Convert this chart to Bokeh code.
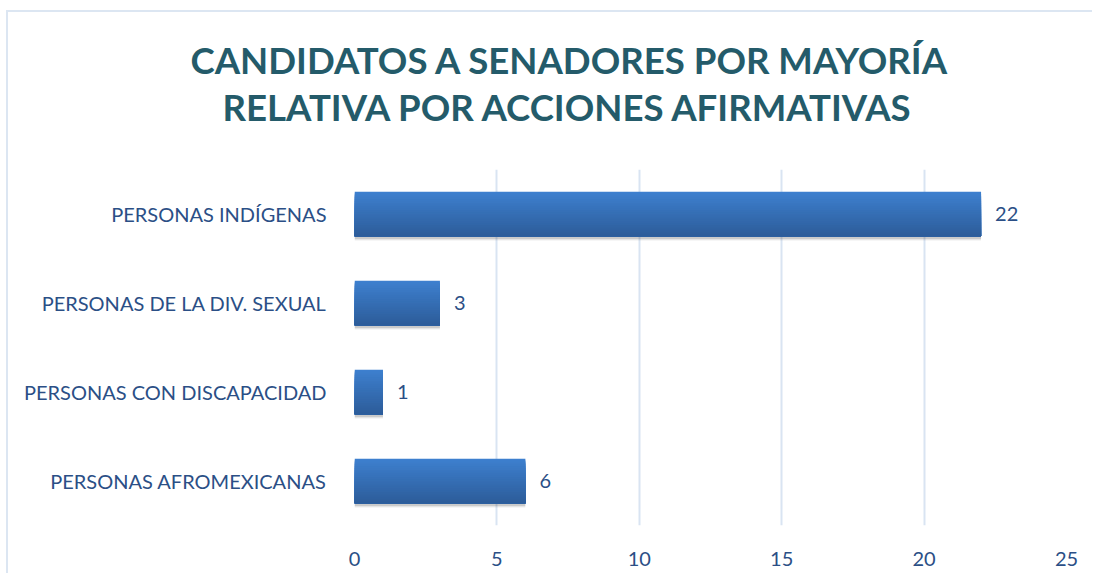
from bokeh.plotting import figure
from bokeh.models import FactorRange, ColumnDataSource, LabelSet, Title, Range1d, FixedTicker
from bokeh.core.properties import value
from bokeh.transform import dodge
from bokeh.embed import file_html
from bokeh.resources import INLINE

categories = ["PERSONAS INDÍGENAS", "PERSONAS DE LA DIV. SEXUAL",
              "PERSONAS CON DISCAPACIDAD", "PERSONAS AFROMEXICANAS"]
values = [22, 3, 1, 6]
x_ticks = [0, 5, 10, 15, 20, 25]
title_lines = ["CANDIDATOS A SENADORES POR MAYORÍA", "RELATIVA POR ACCIONES AFIRMATIVAS"]

factors = list(reversed(categories))
src = ColumnDataSource(dict(cat=categories, val=values, lbl=[str(v) for v in values]))

p = figure(width=1086, height=563, y_range=FactorRange(factors=factors),
           x_range=Range1d(0, 25), output_backend="svg", toolbar_location=None,
           min_border_left=346, min_border_right=28, min_border_top=157,
           min_border_bottom=50)
p.margin = (10, 0, 0, 6)
p.outline_line_color = None
p.styles = {"border-left": "2px solid #DCE6F2", "border-top": "2px solid #DCE6F2"}

bar_h = 0.5
# soft shadow
for k, a in [(0.05, 0.05), (0.04, 0.07), (0.03, 0.09)]:
    p.hbar(y=dodge("cat", -k, range=p.y_range), right="val", left=0, height=bar_h,
           source=src, fill_color="#000000", fill_alpha=a, line_color=None)

# vertical gradient: nested bars anchored at the bar bottom
N = 24
top = (61, 127, 206)
bot = (45, 93, 154)
for i in range(N):
    t = i / (N - 1)
    c = tuple(int(round(top[j] + (bot[j] - top[j]) * t)) for j in range(3))
    col = "#%02x%02x%02x" % c
    cut = i * bar_h / N
    p.hbar(y=dodge("cat", -cut / 2, range=p.y_range), right="val", left=0,
           height=bar_h - cut, source=src, fill_color=col, line_color=None)

p.add_layout(LabelSet(x="val", y="cat", text="lbl", source=src, x_offset=14,
                      text_baseline="middle", text_align="left",
                      text_font=value("Lato"), text_font_size=value("20px"),
                      text_color="#2B4F86"))

p.xgrid.grid_line_color = "#D9E4F2"
p.xgrid.grid_line_width = 2
p.ygrid.grid_line_color = None
p.xaxis.ticker = FixedTicker(ticks=x_ticks)

for ax in (p.xaxis[0], p.yaxis[0]):
    ax.axis_line_color = None
    ax.major_tick_line_color = None
    ax.minor_tick_line_color = None
    ax.major_label_text_font = "Lato"
    ax.major_label_text_font_size = "20px"
    ax.major_label_text_color = "#2B4F86"
p.yaxis.major_label_standoff = 22
p.xaxis.major_label_standoff = 20

for line, st, off in [(title_lines[1], 82, -132), (title_lines[0], -80, -164)]:
    p.add_layout(Title(text=line, align="left", offset=off, standoff=st,
                       text_font="Lato", text_font_style="bold",
                       text_font_size="36.6px", text_color="#245B6A"), "above")

open("out.html", "w").write(file_html(p, INLINE))
